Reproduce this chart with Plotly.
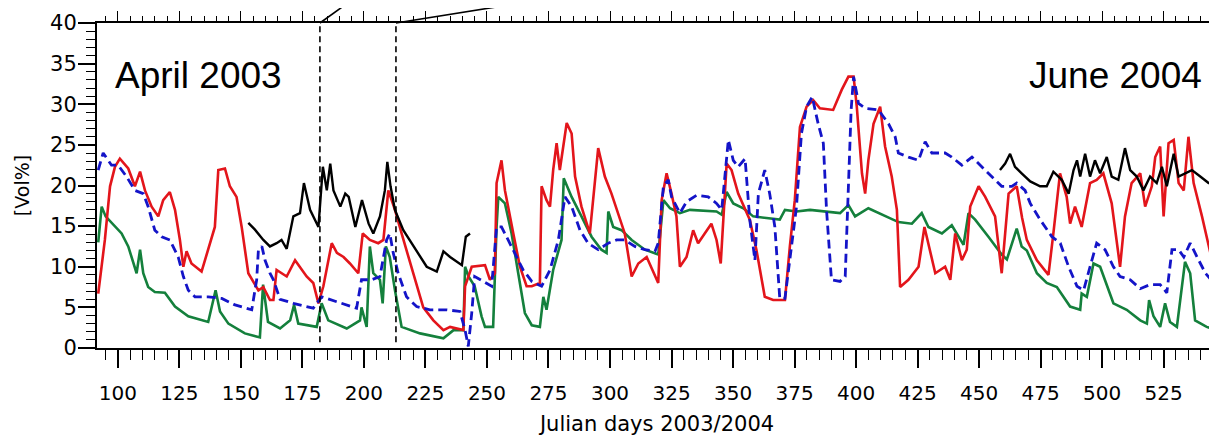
import plotly.graph_objects as go

# ---------------- data ----------------
green_days = [92, 93.4, 95, 97.8, 101.5, 104.2, 107.6, 109, 110.3, 112.3, 115, 119.1, 123.2, 128.6, 136.7,
              139.7, 141.5, 144.9, 151.6, 157.7, 159, 161, 165.9, 170, 171.6, 173.3, 180.8, 182.8, 185.5,
              193, 198.4, 199, 201.1, 202.4, 203.8, 206.5, 207.6, 208.9, 210.5, 212.6, 215.3, 222.8, 232.3,
              236.4, 240.4, 241.1, 242.5, 245, 247.8, 249.2, 252.5, 253.9, 254.6, 257.3, 260, 262.7, 265.4,
              268.2, 271.5, 272.9, 274.2, 276.9, 280.3, 281.2, 284.4, 288.4, 292.5, 296.5, 298.6, 299.3,
              301.3, 304.7, 308.8, 314.2, 318.3, 319.6, 321.7, 324.4, 328.4, 332.5, 343.3, 345.4, 347.4,
              350.1, 354.2, 358.2, 363.6, 369, 371.1, 375.8, 381.3, 386.7, 393.5, 396.9, 399.6, 405, 410.5,
              417.2, 422.7, 426.7, 429.4, 434.9, 438.9, 443.7, 445.7, 448.4, 453.8, 459.2, 461.3, 465.3,
              467.3, 469.4, 473.5, 477.5, 481.6, 487, 491.1, 491.7, 493.8, 496.5, 499.2, 501.2, 504.6, 510,
              515.5, 518.2, 519.1, 520.9, 523.6, 525.6, 527.6, 530.4, 533.7, 535.8, 537.8, 542.5, 546.6]
green_vals = [13.0, 17.4, 16.2, 15.3, 14.1, 12.5, 9.2, 12.1, 9.2, 7.5, 6.9, 6.8, 5.1, 3.9, 3.2,
              7.1, 4.5, 3.0, 1.8, 1.3, 7.8, 3.2, 2.4, 3.4, 5.3, 3.0, 2.6, 5.5, 3.4,
              2.4, 3.4, 5.0, 2.6, 12.5, 9.2, 8.4, 5.5, 12.5, 11.2, 7.1, 2.6, 1.8, 1.2,
              2.2, 2.2, 10.0, 8.8, 7.6, 3.9, 2.6, 2.6, 14.9, 18.6, 17.8, 14.1, 9.2, 4.3,
              2.8, 2.6, 6.3, 4.7, 9.6, 13.3, 20.9, 18.6, 16.2, 13.7, 12.1, 11.7, 16.8,
              14.9, 14.5, 13.3, 12.1, 11.7, 11.5, 18.2, 17.2, 16.6, 17.0, 16.8, 16.4, 19.2,
              17.8, 17.2, 16.2, 16.0, 15.8, 17.0, 16.8, 17.0, 16.8, 16.6, 17.6, 16.2, 17.2, 16.4,
              15.5, 15.3, 16.6, 14.9, 14.1, 15.1, 12.7, 16.6, 15.8, 13.7, 11.5, 10.9, 14.7,
              12.5, 12.0, 9.2, 8.0, 7.5, 5.1, 4.7, 6.7, 6.3, 10.4, 10.0, 8.4, 5.5, 4.7,
              3.4, 3.0, 5.9, 3.9, 2.6, 5.5, 3.2, 2.6, 10.6, 9.2, 3.4, 2.6, 2.2]

red_days = [92, 94.7, 96.8, 98.8, 100.8, 104.2, 106.9, 109, 111, 113.7, 116.4, 118.4, 121.1, 123.2, 125.2,
            126.6, 127.9, 129.9, 134, 137.4, 139.4, 140.8, 143.5, 145.5, 148.2, 150.3, 153, 157.1, 159.1,
            161.8, 163.2, 164.5, 168.6, 172, 174, 176.7, 179.4, 181.5, 183.5, 186.9, 189, 191.7, 194.3,
            197.7, 199.5, 202.4, 205.8, 207.9, 209.9, 212.6, 215.3, 220.1, 224.1, 228.2, 232.3, 235, 237.7,
            240.4, 241.1, 243.8, 249.2, 251.2, 253.2, 253.9, 255.9, 257.3, 260.7, 263.4, 266.1, 268.2,
            271.5, 272.2, 274.2, 275.6, 276.9, 278.3, 279.6, 282.4, 284.4, 285.8, 288.4, 291.8, 295.2,
            297.9, 300.6, 303.3, 306, 308.8, 311.5, 314.9, 318.3, 319.6, 321, 323, 325, 327, 328.4, 331.1,
            333.8, 335.8, 338.5, 341.2, 343.3, 345, 347.4, 349.4, 352.1, 356.8, 359.5, 362.9, 366.3, 371.1,
            373.1, 375.1, 377.2, 379.9, 382.6, 385.3, 390.7, 394.2, 396.9, 399, 400.3, 402.4, 403.7, 405,
            407.1, 409.8, 411.8, 414.5, 416.6, 417.9, 421.3, 425.4, 427.8, 430.1, 432.2, 436.2, 438.3,
            440.3, 443, 445, 446.4, 449.8, 452.5, 456.5, 459.2, 462, 465.3, 467.5, 469.4, 473.5, 478.2,
            480.2, 482.9, 485.6, 487, 489, 491.7, 495.1, 497.8, 500.5, 503.9, 507.3, 509.3, 512, 515.5,
            517.5, 520.2, 521.6, 523.6, 525, 527, 529.1, 531.1, 533.2, 535.1, 537.2, 540.6, 544, 546.6]
red_vals = [6.7, 13.3, 19.9, 22.3, 23.3, 22.1, 19.9, 21.7, 19.4, 17.4, 16.2, 18.2, 19.2, 17.0, 13.3,
            10.0, 11.9, 10.4, 9.4, 12.9, 14.9, 21.9, 22.1, 19.9, 18.6, 14.9, 9.2, 7.1, 7.5,
            5.9, 5.9, 9.6, 8.8, 10.8, 10.0, 8.8, 8.0, 5.5, 7.6, 12.9, 11.7, 11.2, 10.4,
            9.2, 14.1, 13.3, 12.9, 13.3, 19.4, 17.0, 14.1, 9.2, 5.0, 3.4, 2.2, 2.6, 2.4,
            2.2, 7.6, 10.0, 10.2, 8.4, 9.2, 20.3, 23.1, 19.4, 14.1, 10.0, 7.6, 7.6,
            8.0, 19.9, 18.2, 17.4, 21.9, 25.2, 21.9, 27.7, 26.4, 21.1, 17.4, 14.1, 24.6,
            21.1, 19.0, 16.6, 14.1, 8.8, 10.4, 11.2, 8.8, 8.0, 18.2, 21.5, 19.0, 16.2, 10.0, 11.2,
            14.5, 12.9, 14.1, 15.3, 13.3, 10.4, 22.7, 21.9, 19.0, 15.8, 12.1, 6.3, 5.9, 5.9,
            12.5, 18.2, 27.2, 29.7, 30.5, 29.5, 29.3, 31.8, 33.4, 33.4, 29.7, 21.5, 19.0, 23.1,
            27.6, 29.7, 24.8, 21.1, 17.0, 7.5, 8.4, 10.0, 14.9, 11.7, 9.2, 10.0, 8.4,
            14.1, 10.8, 12.1, 17.4, 19.9, 18.6, 16.2, 9.2, 19.0, 19.9, 16.0, 13.3, 10.8, 9.0,
            14.1, 21.5, 18.6, 15.3, 17.4, 14.9, 20.3, 20.7, 21.5, 17.8, 10.0, 16.2, 20.3, 21.5,
            17.4, 19.9, 23.5, 24.8, 16.2, 25.2, 25.6, 20.3, 19.4, 26.0, 20.3, 16.2, 11.7, 12.5]

blue_days = [92, 94, 97.4, 100.1, 103.5, 106.9, 110.3, 112.3, 115, 117.8, 121.1, 124.5, 126.6, 128.6, 131.3,
             136.7, 142.2, 147.6, 154.4, 156.4, 157.1, 158.5, 159.8, 161.8, 163.2, 165.9, 171.3, 179.4,
             182.8, 189, 197, 199, 203.1, 206.5, 209.2, 210.5, 211.9, 213.9, 217.3, 221.4, 226.8, 233.6,
             239, 241.1, 242.4, 243.8, 245, 248.5, 251.9, 253.9, 255.9, 258.6, 261.3, 264.7, 268.2, 272.2,
             275.6, 279, 281.7, 284.4, 287.8, 291.1, 295.2, 299.3, 302.7, 306, 310.1, 314.2, 318.3, 319.6,
             321.7, 323.7, 325, 328.4, 331.1, 335.2, 339.9, 343.3, 345.4, 347.1, 348.1, 350.1, 352.1, 354.9,
             356.8, 358.9, 360.3, 362.9, 364.9, 367, 369, 371.1, 373.1, 375.8, 377.8, 379.9, 382.2, 384.6,
             386.7, 388, 390, 393.5, 395.6, 396.9, 398, 399, 401, 403.7, 409.1, 413.2, 415.9, 417.2, 421.3,
             425.4, 428.1, 430.8, 436.2, 438.9, 443, 447.1, 451.1, 455.2, 459.2, 463.3, 465.3, 468.7, 470.8,
             474.8, 479.6, 483, 486.4, 489.8, 492.5, 495.1, 497.8, 501.2, 504.6, 507.3, 511.4, 515.5, 519.5,
             523.6, 526.3, 528.4, 531.1, 533.2, 535.8, 538.6, 542, 546.6]
blue_vals = [21.9, 24.0, 22.5, 22.5, 21.1, 19.4, 19.0, 17.4, 14.5, 13.7, 13.3, 11.2, 8.8, 7.1, 6.3,
             6.3, 6.1, 5.3, 4.7, 8.4, 12.1, 12.5, 10.8, 9.2, 8.4, 6.0, 5.5, 4.9,
             6.3, 5.7, 4.9, 8.4, 8.4, 8.8, 13.3, 14.1, 11.7, 9.2, 6.3, 5.1, 4.7, 4.7,
             4.5, 2.2, 0.2, 4.3, 8.8, 8.2, 7.6, 14.9, 14.9, 13.3, 11.7, 9.6, 8.2, 7.6,
             9.6, 13.3, 18.6, 17.4, 14.5, 12.9, 12.1, 12.9, 13.3, 13.3, 12.5, 12.1, 11.9, 12.9,
             19.9, 20.7, 18.6, 16.6, 18.0, 18.8, 18.6, 17.8, 17.0, 23.1, 25.6, 23.1, 22.3, 23.3,
             15.8, 10.8, 19.0, 21.9, 19.0, 14.9, 6.1, 6.1, 10.8, 17.4, 26.4, 29.7, 30.9, 27.6,
             25.2, 17.0, 8.4, 8.2, 8.8, 19.0, 29.3, 33.4, 30.1, 29.5, 29.3, 27.6, 26.0, 24.0, 23.5,
             23.1, 25.4, 24.0, 24.0, 23.5, 22.5, 23.5, 22.3, 21.1, 19.9, 19.9, 20.3, 19.4, 17.8,
             15.8, 13.7, 12.9, 10.0, 7.6, 7.1, 10.0, 12.9, 12.1, 10.0, 8.8, 8.4, 7.3, 7.8,
             7.8, 6.8, 12.1, 12.1, 11.2, 12.9, 11.2, 9.2, 7.6]

black1_days = [153, 155.6, 159.1, 161.8, 164.5, 166.5, 168.6, 171.3, 174, 175.6, 178.1, 181.5, 183.3, 184.9,
               186.3, 187.6, 190.4, 192.4, 193.8, 196.5, 199.2, 201.9, 203.8, 206.5, 208.5, 209.5, 210.8,
               212.6, 216, 220.1, 225.5, 229.6, 232.3, 235, 239.8, 241.4, 243.1]
black1_vals = [15.4, 14.6, 13.3, 12.5, 12.9, 13.3, 12.2, 16.2, 16.6, 20.3, 17.0, 14.9, 22.3, 19.4,
               22.7, 19.4, 17.4, 19.0, 18.6, 14.9, 18.2, 15.3, 14.1, 16.2, 19.4, 22.9, 19.9,
               17.0, 14.5, 12.5, 10.0, 9.4, 11.9, 11.2, 10.2, 13.7, 14.1]

black2_days = [458.5, 460.6, 462.6, 464.6, 467.3, 470.8, 474.8, 477.5, 480.2, 483.6, 486.4, 488.4, 489.8,
               491.1, 493.1, 495.1, 497.1, 499.2, 501.9, 503.9, 506.6, 509.3, 511.4, 514.1, 516.8, 519.5,
               522.2, 524.3, 526.3, 529.1, 531.1, 533.7, 536.5, 539.9, 543.3, 546.6]
black2_vals = [21.9, 22.7, 23.9, 22.3, 21.5, 20.5, 19.9, 19.9, 21.7, 20.7, 19.0, 21.9, 23.1,
               21.1, 23.9, 21.1, 23.1, 21.5, 23.5, 21.1, 20.7, 24.6, 21.9, 21.1, 19.4, 21.1,
               20.3, 22.3, 19.9, 23.9, 21.1, 21.5, 21.9, 21.1, 20.3, 20.1]

zoom_days = [182.1, 213.0]          # dashed vertical markers
zoom_top_days = [195.1, 271.5]      # where the connector lines leave the top of the figure

x_ticks = [100, 125, 150, 175, 200, 225, 250, 275, 300, 325, 350, 375, 400, 425, 450, 475, 500, 525]
y_ticks = [0, 5, 10, 15, 20, 25, 30, 35, 40]

X_RANGE = [91.5, 546.7]
Y_RANGE = [0, 40]

# ---------------- figure ----------------
# The page body keeps an 8px default margin, so the figure is sized to fit the
# 1217x444 window after that offset (without causing a scrollbar).
W, H = 1209, 428
ML, MR, MT, MB = 89, 0, 15, 88
plot_h = H - MT - MB
BODY_MARGIN = 8

RED = "#e3151b"
BLUE = "#1414c8"
GREEN = "#14803c"
BLACK = "#000000"

fig = go.Figure()
fig.add_trace(go.Scatter(x=green_days, y=green_vals, mode="lines",
                         line=dict(color=GREEN, width=2.6), showlegend=False))
fig.add_trace(go.Scatter(x=red_days, y=red_vals, mode="lines",
                         line=dict(color=RED, width=2.6), showlegend=False))
fig.add_trace(go.Scatter(x=blue_days, y=blue_vals, mode="lines",
                         line=dict(color=BLUE, width=2.8, dash="9px,5px"), showlegend=False))
fig.add_trace(go.Scatter(x=black1_days, y=black1_vals, mode="lines", xaxis="x2",
                         line=dict(color=BLACK, width=2.4), showlegend=False))
fig.add_trace(go.Scatter(x=black2_days, y=black2_vals, mode="lines", xaxis="x2",
                         line=dict(color=BLACK, width=2.4), showlegend=False))

tick_font = dict(family="DejaVu Sans", size=20, color="black")

fig.update_layout(
    width=W, height=H,
    margin=dict(l=ML, r=MR, t=MT, b=MB, pad=0, autoexpand=False),
    paper_bgcolor="white", plot_bgcolor="white",
    xaxis=dict(
        range=X_RANGE, tickmode="array", tickvals=x_ticks, ticktext=[str(t) for t in x_ticks],
        ticks="outside", ticklen=18, tickwidth=1.6, tickcolor="black",
        minor=dict(dtick=5, tick0=0, ticks="outside", ticklen=10, tickwidth=1.4, tickcolor="black", showgrid=False),
        showline=True, linecolor="black", linewidth=2, showgrid=False, zeroline=False,
        tickfont=tick_font, ticklabelstandoff=8, automargin=False,
        title=dict(text="Julian days 2003/2004", font=dict(family="DejaVu Sans", size=21, color="black"),
                   standoff=24),
    ),
    xaxis2=dict(
        range=X_RANGE, overlaying="x", side="top", anchor="y", matches="x",
        tickmode="array", tickvals=x_ticks, showticklabels=False, automargin=False,
        ticks="outside", ticklen=10, tickwidth=1.4, tickcolor="black",
        minor=dict(dtick=5, tick0=0, ticks="outside", ticklen=5, tickwidth=1.2, tickcolor="black", showgrid=False),
        showline=True, linecolor="black", linewidth=2, showgrid=False, zeroline=False,
    ),
    yaxis=dict(
        range=Y_RANGE, tickmode="array", tickvals=y_ticks, ticktext=[str(t) for t in y_ticks],
        ticks="outside", ticklen=17, tickwidth=1.6, tickcolor="black",
        minor=dict(dtick=1, tick0=0, ticks="outside", ticklen=9, tickwidth=1.4, tickcolor="black", showgrid=False),
        showline=True, linecolor="black", linewidth=2, showgrid=False, zeroline=False,
        tickfont=dict(family="DejaVu Sans", size=21, color="black"), ticklabelstandoff=-3, automargin=False,
        title=dict(text="[Vol%]", font=dict(family="DejaVu Sans", size=19, color="black"), standoff=15),
    ),
)


def xpaper(d):
    return (d - X_RANGE[0]) / (X_RANGE[1] - X_RANGE[0])


# dashed vertical markers
for d in zoom_days:
    fig.add_shape(type="line", xref="x", yref="y", x0=d, x1=d, y0=0.7, y1=40,
                  line=dict(color="black", width=1.6, dash="6px,4px"))

# connector lines going up out of the figure (to the top of the window)
top_paper = (H - MB + BODY_MARGIN) / plot_h
for d, dt in zip(zoom_days, zoom_top_days):
    fig.add_shape(type="line", xref="paper", yref="paper", x0=xpaper(d), y0=1.0,
                  x1=xpaper(dt), y1=top_paper, line=dict(color="black", width=1.6))

# in-plot text labels
fig.add_annotation(text="April 2003", xref="paper", yref="paper", x=0.014, y=0.84,
                   xanchor="left", yanchor="middle", showarrow=False,
                   font=dict(family="Liberation Sans", size=37, color="black"))
fig.add_annotation(text="June 2004", xref="paper", yref="paper", x=0.988, y=0.84,
                   xanchor="right", yanchor="middle", showarrow=False,
                   font=dict(family="Liberation Sans", size=37, color="black"))

fig.write_html("out.html")
